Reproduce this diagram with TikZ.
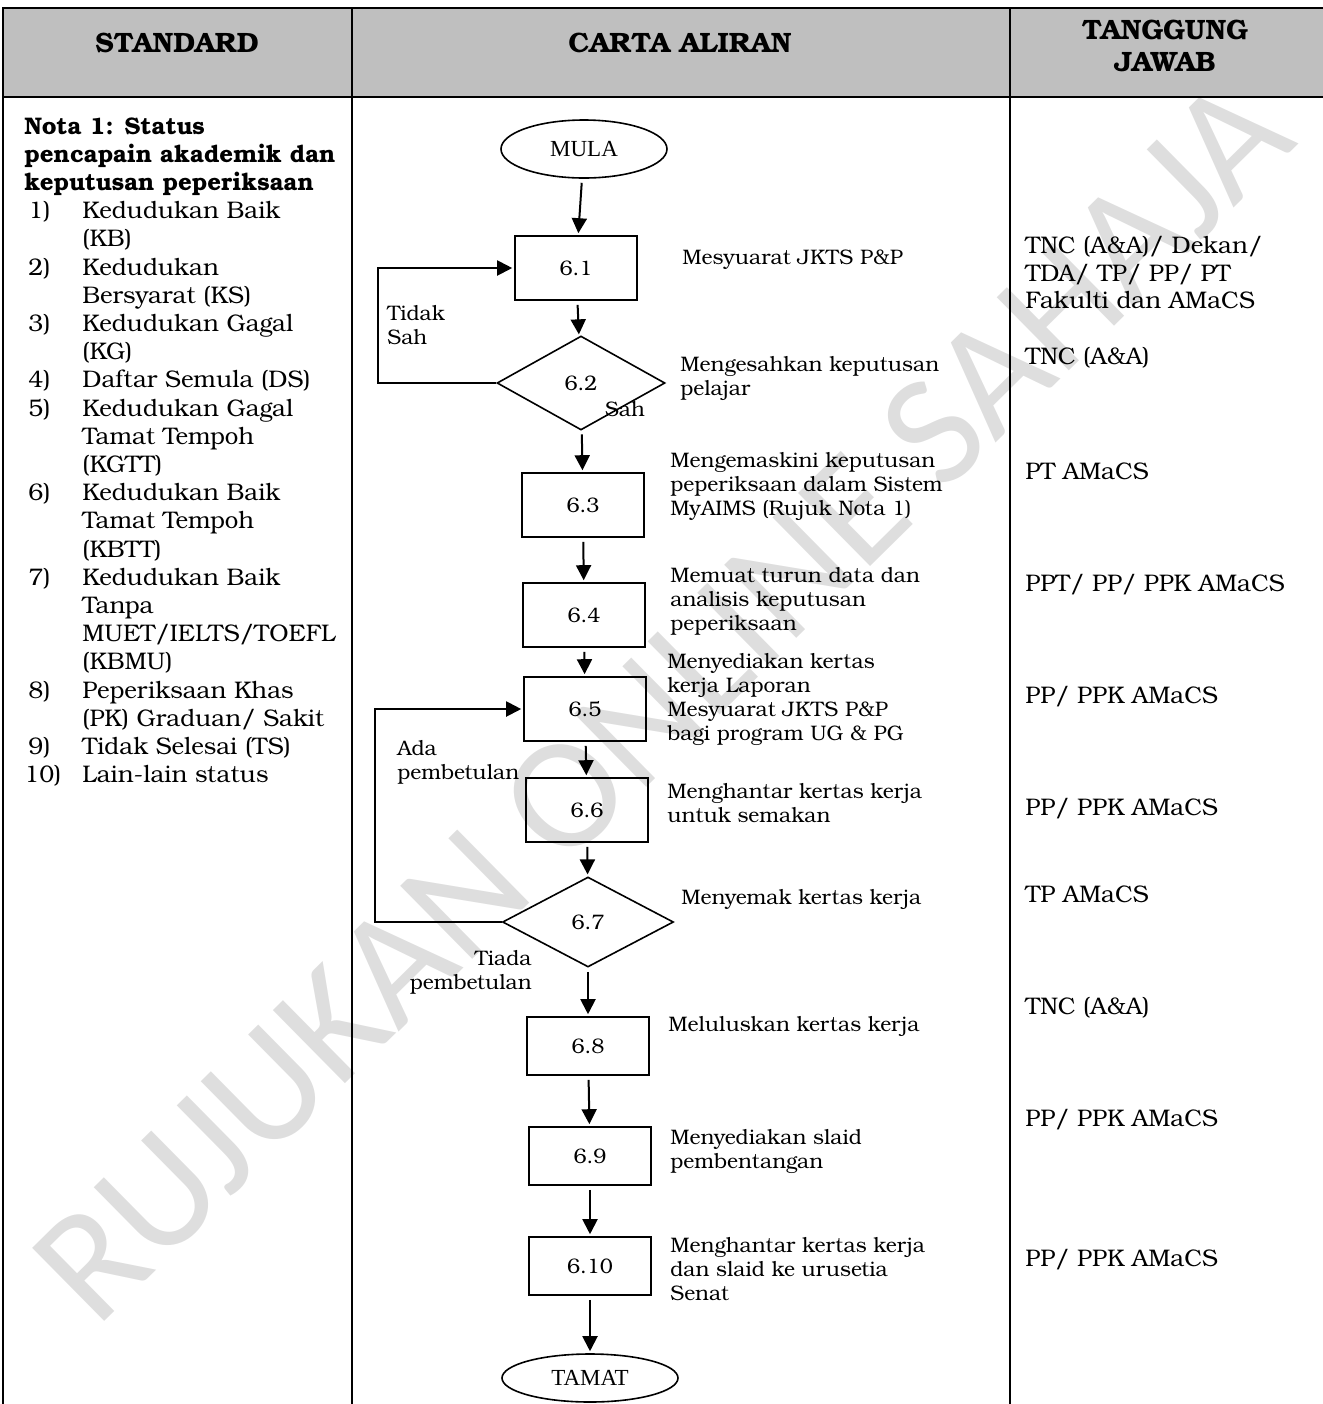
\documentclass[tikz,border=0pt]{standalone}
\usepackage{fontspec}
\setmainfont{TeX Gyre Bonum}
\newfontfamily\ovalfont{Liberation Serif}
\newfontfamily\markfont{Carlito}
\usetikzlibrary{arrows.meta,shapes.geometric}

\begin{document}
\begin{tikzpicture}[x=0.5pt,y=-0.5pt,>={Triangle[width=7.5pt,length=7.5pt]}]
  \tikzstyle{stepbox} = [draw,line width=0.8pt,minimum width=61pt,minimum height=32pt,inner sep=0pt,font=\fontsize{10.5}{12}\selectfont];
  \tikzstyle{check} = [diamond,draw,line width=0.8pt,minimum width=84pt,minimum height=47pt,inner sep=0pt,font=\fontsize{10.5}{12}\selectfont];
  \tikzstyle{terminal} = [ellipse,draw,line width=0.8pt,inner sep=0pt,font=\ovalfont\fontsize{11.5}{12}\selectfont];
  \tikzstyle{desc} = [anchor=west,align=left,inner sep=0pt,font=\fontsize{10.5}{12}\selectfont];
  \tikzstyle{who} = [anchor=west,align=left,inner sep=0pt,font=\fontsize{12}{13.75}\selectfont];
  \tikzstyle{head} = [inner sep=0pt,font=\bfseries\fontsize{14}{16}\selectfont];
  \tikzstyle{nota} = [anchor=north west,inner sep=0pt,font=\fontsize{12}{14.1}\selectfont];
  \tikzstyle{flow} = [->,line width=1pt,shorten <=2pt,shorten >=1pt];
  \tikzstyle{rule} = [line width=1pt];

  \useasboundingbox (0,0) rectangle (1323,1404);

  % watermark
  \node[rotate=44.6,inner sep=0pt,text=black!13,font=\markfont\fontsize{80}{80}\selectfont] (mark) at (662,700) {RUJUKAN ONLINE SAHAJA};

  % table frame
  \fill[black!25] (3,8) rectangle (1323,97);
  \draw[rule] (1323,8) -- (3,8) -- (3,1404);
  \draw[rule] (3,97) -- (1323,97);
  \draw[rule] (352,8) -- (352,1404);
  \draw[rule] (1010,8) -- (1010,1404);
  \node[head] (h1) at (177,43) {STANDARD};
  \node[head] (h2) at (680,43) {CARTA ALIRAN};
  \node[head,align=center] (h3) at (1165,46) {TANGGUNG\\JAWAB};

  % standard column
  \node[nota] (nota) at (24,114) {\begin{tabular}{@{}p{29pt}@{}l@{}}
    \multicolumn{2}{@{}l@{}}{\bfseries Nota 1: Status}\\
    \multicolumn{2}{@{}l@{}}{\bfseries pencapain akademik dan}\\
    \multicolumn{2}{@{}l@{}}{\bfseries keputusan peperiksaan}\\
    \,1) & Kedudukan Baik\\
       & (KB)\\
    \,2) & Kedudukan\\
       & Bersyarat (KS)\\
    \,3) & Kedudukan Gagal\\
       & (KG)\\
    \,4) & Daftar Semula (DS)\\
    \,5) & Kedudukan Gagal\\
       & Tamat Tempoh\\
       & (KGTT)\\
    \,6) & Kedudukan Baik\\
       & Tamat Tempoh\\
       & (KBTT)\\
    \,7) & Kedudukan Baik\\
       & Tanpa\\
       & MUET/IELTS/TOEFL\\
       & (KBMU)\\
    \,8) & Peperiksaan Khas\\
       & (PK) Graduan/ Sakit\\
    \,9) & Tidak Selesai (TS)\\
    10) & Lain-lain status
  \end{tabular}};

  % flow chart
  \node[terminal,minimum width=83pt,minimum height=29pt] (mula) at (584,149) {MULA};
  \node[stepbox] (s1) at (576,268) {6.1};
  \node[check] (s2) at (581,383) {6.2};
  \node[stepbox] (s3) at (583,505) {6.3};
  \node[stepbox] (s4) at (584,615) {6.4};
  \node[stepbox] (s5) at (585,709) {6.5};
  \node[stepbox] (s6) at (587,810) {6.6};
  \node[check,minimum width=85.5pt,minimum height=45pt] (s7) at (588,922) {6.7};
  \node[stepbox,minimum height=29pt] (s8) at (588,1046) {6.8};
  \node[stepbox,minimum height=29pt] (s9) at (590,1156) {6.9};
  \node[stepbox,minimum height=29pt] (s10) at (590,1266) {6.10};
  \node[terminal,minimum width=88pt,minimum height=24pt] (tamat) at (590,1378) {TAMAT};

  \draw[flow] (mula) -- (s1);
  \draw[flow] (s1) -- (s2);
  \draw[flow] (s2) -- (s3);
  \draw[flow] (s3) -- (s4);
  \draw[flow] (s4) -- (s5);
  \draw[flow] (s5) -- (s6);
  \draw[flow] (s6) -- (s7);
  \draw[flow] (s7) -- (s8);
  \draw[flow] (s8) -- (s9);
  \draw[flow] (s9) -- (s10);
  \draw[flow] (s10) -- (tamat);

  \coordinate (back1) at (378,383);
  \coordinate (back2) at (375,922);
  \draw[flow,shorten <=0pt] (s2.west) -- (back1) |- (s1.west);
  \draw[flow,shorten <=0pt] (s7.west) -- (back2) |- (s5.west);

  \node[desc] (nosah) at (387,325) {Tidak\\Sah};
  \node[desc,anchor=center] (sah) at (625,409) {Sah};
  \node[desc] (fix) at (397,762) {Ada\\pembetulan};
  \node[desc,anchor=east,align=right] (nofix) at (532,972) {Tiada\\pembetulan};

  % step texts
  \node[desc] (d1) at (682,260) {Mesyuarat JKTS P\&P};
  \node[desc] (d2) at (680,378) {Mengesahkan keputusan\\pelajar};
  \node[desc] (d3) at (670,486) {Mengemaskini keputusan\\peperiksaan dalam Sistem\\MyAIMS (Rujuk Nota 1)};
  \node[desc] (d4) at (670,601) {Memuat turun data dan\\analisis keputusan\\peperiksaan};
  \node[desc] (d5) at (667,699) {Menyediakan kertas\\kerja Laporan\\Mesyuarat JKTS P\&P\\bagi program UG \& PG};
  \node[desc] (d6) at (667,803) {Menghantar kertas kerja\\untuk semakan};
  \node[desc] (d7) at (681,899) {Menyemak kertas kerja};
  \node[desc] (d8) at (668,1026) {Meluluskan kertas kerja};
  \node[desc] (d9) at (670,1151) {Menyediakan slaid\\pembentangan};
  \node[desc] (d10) at (670,1269) {Menghantar kertas kerja\\dan slaid ke urusetia\\Senat};

  % responsible
  \node[who] (w1) at (1025,273) {TNC (A\&A)/ Dekan/\\TDA/ TP/ PP/ PT\\Fakulti dan AMaCS};
  \node[who] (w2) at (1025,358) {TNC (A\&A)};
  \node[who] (w3) at (1025,471) {PT AMaCS};
  \node[who] (w4) at (1025,585) {PPT/ PP/ PPK AMaCS};
  \node[who] (w5) at (1025,697) {PP/ PPK AMaCS};
  \node[who] (w6) at (1025,809) {PP/ PPK AMaCS};
  \node[who] (w7) at (1025,894) {TP AMaCS};
  \node[who] (w8) at (1025,1008) {TNC (A\&A)};
  \node[who] (w9) at (1025,1120) {PP/ PPK AMaCS};
  \node[who] (w10) at (1025,1260) {PP/ PPK AMaCS};
\end{tikzpicture}
\end{document}
